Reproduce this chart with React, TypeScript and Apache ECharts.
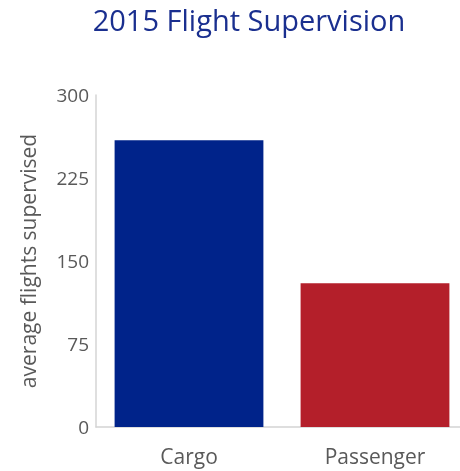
import React, { useEffect, useRef } from "react";
import * as echarts from "echarts";

const categories = ["Cargo", "Passenger"];
const values = [259, 130];
const barColors = ["#00238a", "#b41f2a"];
const yTicks = { min: 0, max: 300, interval: 75 };

export default function App() {
  const ref = useRef<HTMLDivElement>(null);
  useEffect(() => {
    const chart = echarts.init(ref.current!, undefined, { renderer: "svg" });
    const font = "'Open Sans', sans-serif";
    chart.setOption({
      animation: false,
      title: {
        text: "2015 Flight Supervision",
        left: 244,
        textAlign: "center",
        top: 0,
        textStyle: { color: "#1a2f8f", fontSize: 29, fontWeight: "normal", fontFamily: font },
      },
      grid: { left: 96, top: 95, width: 372, height: 332 },
      xAxis: {
        type: "category",
        data: categories,
        axisLine: { lineStyle: { color: "#d4d4d4", width: 1.5 } },
        axisTick: { show: false },
        axisLabel: { color: "#595959", fontSize: 21, fontFamily: font, margin: 18 },
      },
      yAxis: {
        type: "value",
        min: yTicks.min,
        max: yTicks.max,
        interval: yTicks.interval,
        name: "average flights supervised",
        nameLocation: "middle",
        nameGap: 58,
        nameTextStyle: { color: "#595959", fontSize: 21, fontFamily: font },
        splitLine: { show: false },
        axisLine: { show: true, lineStyle: { color: "#d4d4d4", width: 1.5 } },
        axisTick: { show: false },
        axisLabel: { color: "#595959", fontSize: 19, fontFamily: font, margin: 7 },
      },
      series: [
        {
          type: "bar",
          barCategoryGap: "20%",
          data: values.map((v, i) => ({ value: v, itemStyle: { color: barColors[i] } })),
        },
      ],
    });
    return () => chart.dispose();
  }, []);
  return (
    <div style={{ position: "fixed", left: 0, top: 0, width: 460, height: 471, overflow: "hidden" }}>
      <div ref={ref} style={{ width: 480, height: 471 }} />
    </div>
  );
}
